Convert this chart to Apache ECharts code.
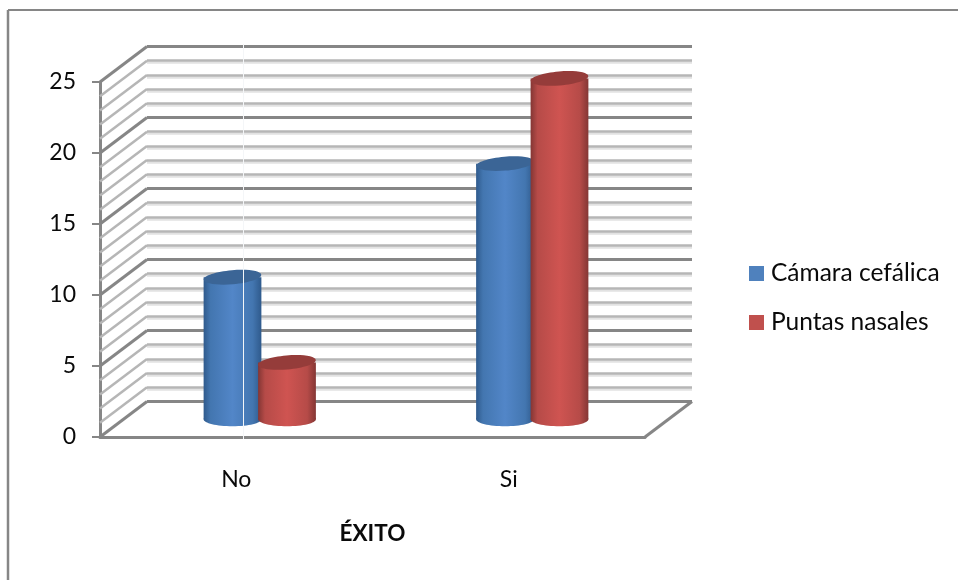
<!DOCTYPE html>
<html>
<head>
<meta charset="utf-8">
<style>html,body{margin:0;padding:0;background:#fff}#chart{width:958px;height:580px}</style>
<script src="https://cdn.jsdelivr.net/npm/echarts@6/dist/echarts.min.js"></script>
</head>
<body>
<div id="chart"></div>
<script>
// Chart values
const categories = ['No', 'Si'];
const camaraCefalica = [10, 18];
const puntasNasales = [4, 24];
const wallLevels = [0, 1, 2, 3, 4, 5, 6, 7, 8, 9, 10, 11, 12, 13, 14, 15, 16, 17, 18, 19, 20, 21, 22, 23, 24, 25];

// Pseudo-3D box: the front plane, the back wall, and the plane the cylinders stand on
const FRONT = { left: 100, top: 82, width: 545, height: 355 };
const DEPTH_X = 47, DEPTH_Y = -35.5;
const AXIS_COLOR = '#868686', MINOR_COLOR = '#b6b6b6';
const FONT = 'Lato';
const INK = '#0a0a0a';

function plane(t) {
  return {
    left: FRONT.left + DEPTH_X * t, top: FRONT.top + DEPTH_Y * t,
    width: FRONT.width, height: FRONT.height
  };
}

const hiddenAxis = { axisLabel: { show: false }, axisLine: { show: false }, axisTick: { show: false }, splitLine: { show: false } };

// One cylinder: shaded body, rounded foot and a tilted darker lid
function cylinder(offset, edge, mid, lid) {
  return function (params, api) {
    const band = api.size([1, 0])[0];
    const cx = api.coord([api.value(0), 0])[0] + band * offset;
    const yTop = api.coord([0, api.value(1)])[1];
    const yBase = api.coord([0, 0])[1];
    const rx = band * 0.106, ry = 7, tilt = 0.085;
    const fill = new echarts.graphic.LinearGradient(0, 0, 1, 0, [
      { offset: 0, color: edge }, { offset: 0.12, color: mid[0] },
      { offset: 0.5, color: mid[1] }, { offset: 0.85, color: mid[0] }, { offset: 1, color: edge }
    ]);
    return {
      type: 'group',
      children: [
        { type: 'ellipse', shape: { cx, cy: yBase, rx, ry }, style: { fill } },
        { type: 'rect', shape: { x: cx - rx, y: yTop, width: rx * 2, height: yBase - yTop }, style: { fill } },
        { type: 'ellipse', shape: { cx, cy: yTop, rx, ry }, rotation: tilt, originX: cx, originY: yTop, style: { fill: lid } }
      ]
    };
  };
}

const option = {
  backgroundColor: '#fff',
  animation: false,
  textStyle: { fontFamily: FONT },
  legend: {
    orient: 'vertical', left: 744, top: 256, itemWidth: 15, itemHeight: 15, itemGap: 24,
    icon: 'rect', selectedMode: false,
    textStyle: { fontFamily: FONT, fontSize: 24.5, color: INK, padding: [0, 0, 0, 2] },
    data: ['Cámara cefálica', 'Puntas nasales']
  },
  grid: [plane(0), plane(1), plane(0.5)],
  xAxis: [
    {
      gridIndex: 0, type: 'category', data: categories,
      axisLine: { lineStyle: { color: AXIS_COLOR, width: 3 } }, axisTick: { show: false },
      axisLabel: { fontFamily: FONT, fontSize: 23, color: INK, margin: 31 },
      name: 'ÉXITO', nameLocation: 'middle', nameGap: 85,
      nameTextStyle: { fontFamily: FONT, fontSize: 22.5, fontWeight: 'bold', color: INK }
    },
    Object.assign({ gridIndex: 1, type: 'category', data: categories }, hiddenAxis),
    Object.assign({ gridIndex: 2, type: 'category', data: categories }, hiddenAxis)
  ],
  yAxis: [
    {
      gridIndex: 0, type: 'value', min: 0, max: 25, interval: 5,
      axisLine: { show: true, lineStyle: { color: AXIS_COLOR, width: 3 } },
      axisTick: { show: true, length: 8, lineStyle: { color: AXIS_COLOR, width: 2 } },
      axisLabel: { fontFamily: FONT, fontSize: 23, color: INK, margin: 24, padding: [4, 0, 0, 0] },
      splitLine: { show: false }
    },
    {
      gridIndex: 1, type: 'value', min: 0, max: 25, interval: 5,
      axisLabel: { show: false }, axisLine: { show: false }, axisTick: { show: false },
      minorTick: { show: false, splitNumber: 5 },
      splitLine: { show: true, lineStyle: { color: AXIS_COLOR, width: 3 } },
      minorSplitLine: {
        show: true,
        lineStyle: { color: MINOR_COLOR, width: 2.5, shadowColor: '#e2e2e2', shadowOffsetY: 2, shadowBlur: 0 }
      }
    },
    Object.assign({ gridIndex: 2, type: 'value', min: 0, max: 25, interval: 5 }, hiddenAxis)
  ],
  series: [
    {
      // Diagonal rungs on the side wall
      type: 'custom', xAxisIndex: 0, yAxisIndex: 0, silent: true, z: 1,
      data: wallLevels.map(v => [0, v]),
      renderItem(params, api) {
        const v = api.value(1);
        const y = api.coord([0, v])[1];
        const x = params.coordSys.x;
        const major = v % 5 === 0;
        return {
          type: 'line',
          shape: { x1: x, y1: y, x2: x + DEPTH_X, y2: y + DEPTH_Y },
          style: { stroke: major ? AXIS_COLOR : MINOR_COLOR, lineWidth: major ? 3 : 2.5 }
        };
      }
    },
    {
      // Right edge of the floor
      type: 'custom', xAxisIndex: 0, yAxisIndex: 0, silent: true, z: 1,
      data: [[0, 0]],
      renderItem(params, api) {
        const y = api.coord([0, 0])[1];
        const x = params.coordSys.x + params.coordSys.width;
        return {
          type: 'line',
          shape: { x1: x, y1: y, x2: x + DEPTH_X, y2: y + DEPTH_Y },
          style: { stroke: AXIS_COLOR, lineWidth: 3 }
        };
      }
    },
    {
      name: 'Cámara cefálica', type: 'custom', xAxisIndex: 2, yAxisIndex: 2, z: 3,
      itemStyle: { color: '#4f81bd' },
      data: camaraCefalica.map((v, i) => [i, v]),
      renderItem: cylinder(-0.1, '#2f5a8c', ['#4376b0', '#5286c8'], '#3b6596')
    },
    {
      name: 'Puntas nasales', type: 'custom', xAxisIndex: 2, yAxisIndex: 2, z: 4,
      itemStyle: { color: '#c0504d' },
      data: puntasNasales.map((v, i) => [i, v]),
      renderItem: cylinder(0.1, '#843634', ['#b64b48', '#cf5451'], '#953c3a')
    }
  ],
  graphic: [
    // Outer frame (top and left sides)
    { type: 'line', shape: { x1: 8, y1: 10, x2: 958, y2: 10 }, style: { stroke: AXIS_COLOR, lineWidth: 2 } },
    { type: 'line', shape: { x1: 8, y1: 10, x2: 8, y2: 580 }, style: { stroke: AXIS_COLOR, lineWidth: 2.5 } },
    // Thin pale rule crossing the plot
    { type: 'line', shape: { x1: 243.5, y1: 44, x2: 243.5, y2: 439 }, style: { stroke: '#f4f6f8', lineWidth: 1 }, z: 50 }
  ]
};

const chart = echarts.init(document.getElementById('chart'), null, { renderer: 'canvas' });
chart.setOption(option);
</script>
</body>
</html>
